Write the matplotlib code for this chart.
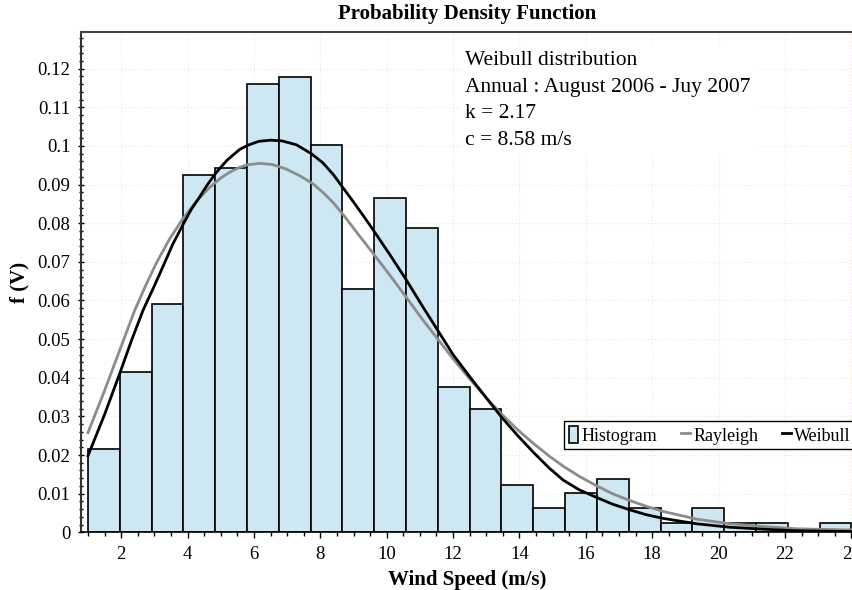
import numpy as np
import matplotlib
matplotlib.use("Agg")
from matplotlib import pyplot as plt

plt.rcParams['font.family'] = ['Liberation Serif', 'DejaVu Serif']

# histogram (24 bins from 1 to 24 m/s)
bin_start = 1.0
bin_end = 24.0
hist_vals = [0.0215, 0.0415, 0.059, 0.0926, 0.0943, 0.116, 0.1178, 0.1003,
             0.0631, 0.0866, 0.0787, 0.0376, 0.0318, 0.0122, 0.0062, 0.0101,
             0.0139, 0.0062, 0.0023, 0.0062, 0.0023, 0.0023, 0.0006, 0.0023]

# curves
weib_x = [1.0, 1.5, 1.96, 2.3, 2.66, 3.0, 3.26, 3.55, 3.86, 4.1, 4.37, 4.6,
          4.87, 5.2, 5.57, 5.85, 6.15, 6.5, 6.85, 7.28, 7.73, 8.08, 8.4,
          8.69, 9.0, 9.34, 9.59, 10.1, 10.6, 11.05, 11.55, 12.0, 12.5,
          13.0, 13.46, 13.95, 14.42, 14.9, 15.32, 15.8, 16.33, 16.8, 17.33,
          17.8, 18.33, 19.34, 20.35, 21.35, 22.36, 24.0]
weib_y = [0.0198, 0.0305, 0.0412, 0.0494, 0.0575, 0.0638, 0.0688, 0.0745,
          0.0796, 0.0834, 0.0869, 0.0900, 0.0932, 0.0964, 0.0991, 0.1003,
          0.1012, 0.1015, 0.1013, 0.1003, 0.0980, 0.0956, 0.0925, 0.0891,
          0.0855, 0.0814, 0.0783, 0.0718, 0.0652, 0.0589, 0.0521, 0.0460,
          0.0403, 0.0348, 0.0298, 0.0250, 0.0207, 0.0166, 0.0135, 0.0110,
          0.0090, 0.0073, 0.0058, 0.0046, 0.0036, 0.0022, 0.0013, 0.0008,
          0.0004, 0.0002]

rayl_x = [1.0, 1.5, 1.95, 2.41, 2.75, 3.06, 3.45, 3.86, 4.25, 4.67, 5.0,
          5.27, 5.55, 5.78, 6.18, 6.55, 6.98, 7.4, 7.78, 8.1, 8.39, 8.69,
          9.1, 9.59, 10.1, 10.6, 11.05, 11.55, 12.0, 12.5, 13.0, 13.46,
          13.95, 14.42, 14.9, 15.32, 15.8, 16.33, 16.8, 17.33, 17.8, 18.33,
          19.34, 20.35, 21.35, 22.36, 24.0]
rayl_y = [0.0258, 0.0367, 0.0470, 0.0575, 0.0641, 0.0697, 0.0758, 0.0812,
          0.0855, 0.0893, 0.0917, 0.0932, 0.0944, 0.0951, 0.0955, 0.0952,
          0.0940, 0.0922, 0.0902, 0.0878, 0.0853, 0.0822, 0.0776, 0.0722,
          0.0665, 0.0607, 0.0554, 0.0499, 0.0449, 0.0397, 0.0348, 0.0306,
          0.0265, 0.0230, 0.0197, 0.0171, 0.0145, 0.0120, 0.0100, 0.0082,
          0.0068, 0.0054, 0.0034, 0.0022, 0.0015, 0.0009, 0.0006]

info_lines = ["Weibull distribution", "Annual : August 2006 - Juy 2007",
              "k = 2.17", "c = 8.58 m/s"]

fig = plt.figure(figsize=(8.53, 5.9), dpi=100)
ax = fig.add_axes([0.0946, 0.0978, 0.9054, 0.848])

edges = np.linspace(bin_start, bin_end, len(hist_vals) + 1)
bars = ax.bar(edges[:-1], hist_vals, width=np.diff(edges), align='edge',
              color='#cde7f3', edgecolor='black', linewidth=1.2,
              label='Histogram', zorder=2)
l_ray, = ax.plot(rayl_x, rayl_y, color='#8c8c8c', linewidth=2,
                 label='Rayleigh', zorder=3)
l_wei, = ax.plot(weib_x, weib_y, color='black', linewidth=2,
                 label='Weibull', zorder=4)

ax.set_xlim(0.78, 24.05)
ax.set_ylim(0, 0.1295)
ax.set_xticks(np.arange(2, 25, 2))
ax.set_xticks(np.arange(1, 24.5, 0.5), minor=True)
ax.set_yticks(np.arange(0, 0.125, 0.01))
ax.set_yticks(np.arange(0, 0.129, 0.002), minor=True)
ax.set_yticklabels(['0'] + ['%g' % v for v in np.arange(0.01, 0.125, 0.01).round(2)])

ax.grid(True, which='major', color='#f3ead8', linestyle=':', linewidth=0.9, zorder=0)
ax.set_axisbelow(True)

ax.tick_params(axis='x', which='major', direction='out', length=4, width=1,
               labelsize=13.5, pad=6)
ax.tick_params(axis='x', which='minor', direction='out', length=3, width=1)
ax.tick_params(axis='y', which='major', direction='inout', length=5, width=1,
               labelsize=13.5, pad=5)
ax.tick_params(axis='y', which='minor', direction='inout', length=3, width=1)

ax.spines['right'].set_visible(False)
ax.spines['left'].set_color('#333333')
ax.spines['left'].set_linewidth(1.5)
ax.spines['top'].set_color('#444444')
ax.spines['top'].set_linewidth(1.5)
ax.spines['bottom'].set_color('black')
ax.spines['bottom'].set_linewidth(1.2)

ax.set_title('Probability Density Function', fontsize=15, fontweight='bold', pad=9)
ax.set_xlabel('Wind Speed (m/s)', fontsize=15, fontweight='bold', labelpad=5)
ax.set_ylabel('f (V)', fontsize=15, fontweight='bold', labelpad=6)

ax.text(0.4976, 0.962, "\n".join(info_lines), transform=ax.transAxes,
        fontsize=15.5, va='top', ha='left', linespacing=1.55, zorder=5,
        bbox=dict(facecolor='white', edgecolor='none', pad=3))

leg = ax.legend([bars, l_ray, l_wei], ['Histogram', 'Rayleigh', 'Weibull'],
                loc='upper left', bbox_to_anchor=(0.626, 0.222), ncol=3,
                fontsize=13, frameon=True, fancybox=False, framealpha=1,
                edgecolor='black', handlelength=0.5, handleheight=1.1,
                handletextpad=0.2, columnspacing=1.3, borderpad=0.25,
                borderaxespad=0)
leg.get_frame().set_linewidth(1.0)

fig.savefig('out.png', dpi=100)
